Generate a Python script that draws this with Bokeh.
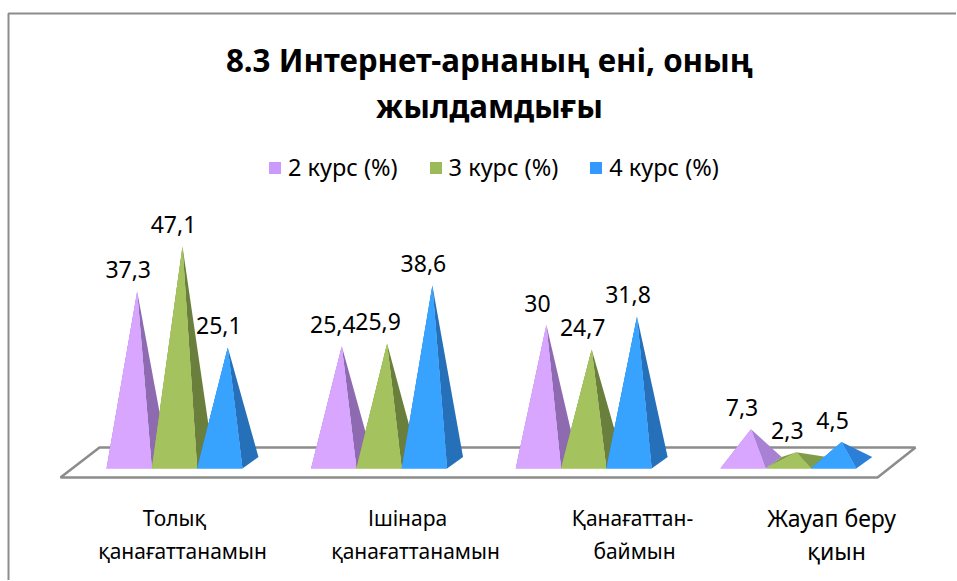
from bokeh.plotting import figure
from bokeh.models import Range1d, ColumnDataSource, Legend, LegendItem
from bokeh.core.properties import value as fv
from bokeh.embed import file_html
from bokeh.resources import INLINE

title_lines = ["8.3 Интернет-арнаның ені, оның", "жылдамдығы"]
series_names = ["2 курс (%)", "3 курс (%)", "4 курс (%)"]
s2 = [37.3, 25.4, 30, 7.3]
s3 = [47.1, 25.9, 24.7, 2.3]
s4 = [25.1, 38.6, 31.8, 4.5]
value_labels = [["37,3", "25,4", "30", "7,3"], ["47,1", "25,9", "24,7", "2,3"], ["25,1", "38,6", "31,8", "4,5"]]
cat_line1 = ["Толық", "Ішінара", "Қанағаттан-", "Жауап беру"]
cat_line2 = ["қанағаттанамын", "қанағаттанамын", "баймын", "қиын"]
front = ["#D9A6FF", "#A4C35E", "#38A3FF"]
side = ["#8E6BB0", "#6B7F3C", "#2570B8"]
side_low = ["#A880D4", "#7E9C4A", "#2B7FD6"]
legend_colors = ["#CC99FF", "#9BBB59", "#3399FF"]

FONT = "Noto Sans"
# layout in screen pixels of the page
L, T, W, H = 1, 1, 956, 580
Y0, PPU = 463.25, 4.59      # page y of value 0, pixels per unit
C0, GAP = 175.0, 204.6      # page x of first group's centre, pixels per group
BW, DX, DY = 45.3, 16.0, 11.5  # pyramid width and depth offset
def X(px): return (px - C0) / GAP
def Y(py): return (Y0 - py) / PPU

p = figure(width=W, height=H, output_backend="svg", toolbar_location=None,
           x_range=Range1d(X(L), X(L + W)), y_range=Range1d(Y(T + H), Y(T)),
           min_border=0, margin=(0, 0, 0, 0))
p.axis.visible = False
p.grid.visible = False
p.outline_line_color = None

# chart frame: only its top and left edges show in the picture
p.line([X(9), X(9), X(957)], [Y(581), Y(14), Y(14)], line_color="#8C8C8C", line_width=2)

# floor
p.patch([X(61), X(100), X(916), X(878)], [Y(478), Y(448), Y(448), Y(478)],
        fill_color="#FFFFFF", line_color="#8C8C8C", line_width=2.5)

bw, dx = BW / GAP, DX / GAP
hy = (DY / 2) / PPU   # half depth in value units
items = []
all_series = [s2, s3, s4]
for i, vals in enumerate(all_series):
    fx, fy, sx, sy, sc = [], [], [], [], []
    for g, v in enumerate(vals):
        left = g + (i - 1.5) * bw
        right = left + bw
        ax = left + bw / 2 + dx / 2
        fx.append([left, right, ax]); fy.append([-hy, -hy, v])
        # right-hand side
        sx.append([right, right + dx, ax]); sy.append([-hy, hy, v]); sc.append(side_low[i] if v < 10 else side[i])
        # left-hand back side
        sx.append([left, left + dx, ax]); sy.append([-hy, hy, v]); sc.append(side_low[i] if v < 10 else side[i])
    p.patches("x", "y", source=ColumnDataSource(dict(x=sx, y=sy, c=sc)), fill_color="c", line_color=None)
    src = ColumnDataSource(dict(x=fx, y=fy))
    # flat series colour for the legend key, lit front face drawn over it
    key = p.patches("x", "y", source=src, fill_color=legend_colors[i], line_color=None)
    p.patches("x", "y", source=src, fill_color=front[i], line_color=None)
    items.append(LegendItem(label=series_names[i], renderers=[key]))

leg = Legend(items=items, orientation="horizontal", location=(267, 397), glyph_width=15, glyph_height=15,
             label_text_font=FONT, label_text_font_size="23.5px", label_text_color="#000000",
             label_standoff=6, spacing=30, padding=0, margin=0, background_fill_alpha=0,
             border_line_color=None, label_height=15)
p.add_layout(leg, "center")

# value labels
for i, vals in enumerate(all_series):
    ax = [g + (i - 1.5) * bw + bw / 2 + dx / 2 for g in range(4)]
    p.text(ax, vals, text=value_labels[i], text_font=fv(FONT), text_font_size="23px",
           text_color="#000000", text_align="center", text_baseline="middle", x_offset=-9, y_offset=-22)

# title
p.text([X(490), X(490)], [Y(60), Y(106)], text=title_lines, text_font=fv(FONT), text_font_size="31.3px",
       text_font_style="bold", text_color="#000000", text_align="center", text_baseline="middle")

# category labels
cat_x1 = [175, 408, 633, 832]
cat_x2 = [183, 416, 635, 837]
cat_size = ["21px", "21px", "21px", "23px"]
for g in range(4):
    p.text([X(cat_x1[g]), X(cat_x2[g])], [Y(518), Y(551)], text=[cat_line1[g], cat_line2[g]],
           text_font=fv(FONT), text_font_size=cat_size[g], text_color="#000000",
           text_align="center", text_baseline="middle")

open("out.html", "w").write(file_html(p, INLINE))
